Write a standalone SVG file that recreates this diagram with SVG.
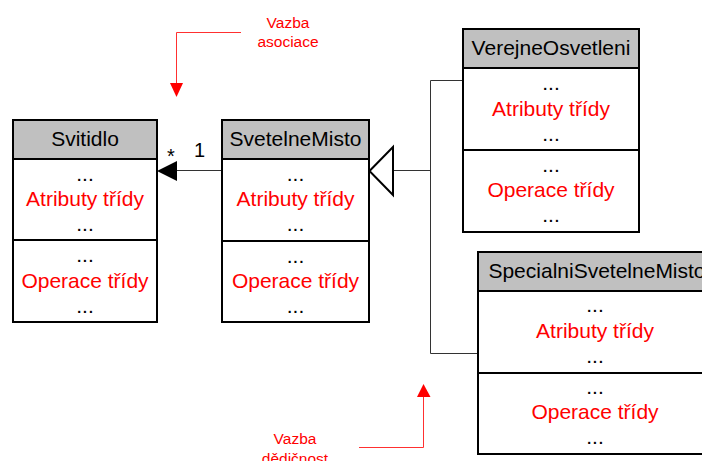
<svg xmlns="http://www.w3.org/2000/svg" width="702" height="461" viewBox="0 0 702 461">
  <style>
    text { font-family: "Liberation Sans", Arial, sans-serif; }
    .box { fill: #ffffff; stroke: #000000; stroke-width: 2; }
    .head { fill: #c0c0c0; stroke: #000000; stroke-width: 2; }
    .title { font-size: 21px; fill: #000000; text-anchor: middle; }
    .dots { font-size: 21px; fill: #000000; text-anchor: middle; }
    .member { font-size: 21px; fill: #ff0000; text-anchor: middle; }
    .conn { fill: none; stroke: #333333; stroke-width: 1; }
    .note { font-size: 15.5px; fill: #ff0000; text-anchor: middle; }
    .noteline { fill: none; stroke: #ff3030; stroke-width: 1; }
    .mult { font-size: 20px; fill: #000000; }
  </style>

  <!-- connectors -->
  <g id="connectors">
    <!-- association SvetelneMisto -> Svitidlo -->
    <line class="conn" x1="222" y1="170.5" x2="176" y2="170.5"/>
    <polygon points="157,171 177,161 177,181" fill="#000000"/>
    <text class="mult" x="167" y="163">*</text>
    <text class="mult" x="194" y="157">1</text>

    <!-- generalization tree -->
    <polyline class="conn" points="463,80.5 430.5,80.5 430.5,353.5 478,353.5"/>
    <line class="conn" x1="393" y1="170.5" x2="430.5" y2="170.5"/>
    <polygon points="369.5,171 393,147 393,195" fill="#ffffff" stroke="#000000" stroke-width="2"/>
  </g>

  <!-- class Svitidlo -->
  <g id="svitidlo">
    <rect class="head" x="13" y="120" width="144" height="39"/>
    <rect class="box" x="13" y="159" width="144" height="81"/>
    <rect class="box" x="13" y="240" width="144" height="82"/>
    <text class="title" x="85" y="146">Svitidlo</text>
    <text class="dots" x="85" y="181">...</text>
    <text class="member" x="85" y="206">Atributy třídy</text>
    <text class="dots" x="85" y="231">...</text>
    <text class="dots" x="85" y="262">...</text>
    <text class="member" x="85" y="288">Operace třídy</text>
    <text class="dots" x="85" y="313">...</text>
  </g>

  <!-- class SvetelneMisto -->
  <g id="svetelne-misto">
    <rect class="head" x="222" y="120" width="147" height="39"/>
    <rect class="box" x="222" y="159" width="147" height="82"/>
    <rect class="box" x="222" y="241" width="147" height="81"/>
    <text class="title" x="295.5" y="146">SvetelneMisto</text>
    <text class="dots" x="295.5" y="181">...</text>
    <text class="member" x="295.5" y="206">Atributy třídy</text>
    <text class="dots" x="295.5" y="231">...</text>
    <text class="dots" x="295.5" y="263">...</text>
    <text class="member" x="295.5" y="288">Operace třídy</text>
    <text class="dots" x="295.5" y="313">...</text>
  </g>

  <!-- class VerejneOsvetleni -->
  <g id="verejne-osvetleni">
    <rect class="head" x="463" y="29" width="176" height="39"/>
    <rect class="box" x="463" y="68" width="176" height="82"/>
    <rect class="box" x="463" y="150" width="176" height="82"/>
    <text class="title" x="551" y="55">VerejneOsvetleni</text>
    <text class="dots" x="551" y="90">...</text>
    <text class="member" x="551" y="116">Atributy třídy</text>
    <text class="dots" x="551" y="141">...</text>
    <text class="dots" x="551" y="172">...</text>
    <text class="member" x="551" y="197">Operace třídy</text>
    <text class="dots" x="551" y="222">...</text>
  </g>

  <!-- class SpecialniSvetelneMisto (extends past the right edge) -->
  <g id="specialni-svetelne-misto">
    <rect class="head" x="478" y="252" width="234" height="39"/>
    <rect class="box" x="478" y="291" width="234" height="82"/>
    <rect class="box" x="478" y="373" width="234" height="81"/>
    <text class="title" x="597" y="278">SpecialniSvetelneMisto</text>
    <text class="dots" x="595" y="312">...</text>
    <text class="member" x="595" y="338">Atributy třídy</text>
    <text class="dots" x="595" y="363">...</text>
    <text class="dots" x="595" y="394">...</text>
    <text class="member" x="595" y="419">Operace třídy</text>
    <text class="dots" x="595" y="444">...</text>
  </g>

  <!-- annotation: association -->
  <g id="note-asociace">
    <polyline class="noteline" points="241,32.5 176.5,32.5 176.5,85"/>
    <polygon points="170,83 183,83 176.5,97" fill="#ff0000"/>
    <text class="note" x="288" y="28">Vazba</text>
    <text class="note" x="288" y="47">asociace</text>
  </g>

  <!-- annotation: inheritance (second line runs past the bottom edge) -->
  <g id="note-dedicnost">
    <polyline class="noteline" points="359,447.5 423.5,447.5 423.5,396"/>
    <polygon points="417,397 430.5,397 423.5,384" fill="#ff0000"/>
    <text class="note" x="295" y="444">Vazba</text>
    <text class="note" x="295" y="464">dědičnost</text>
  </g>
</svg>
